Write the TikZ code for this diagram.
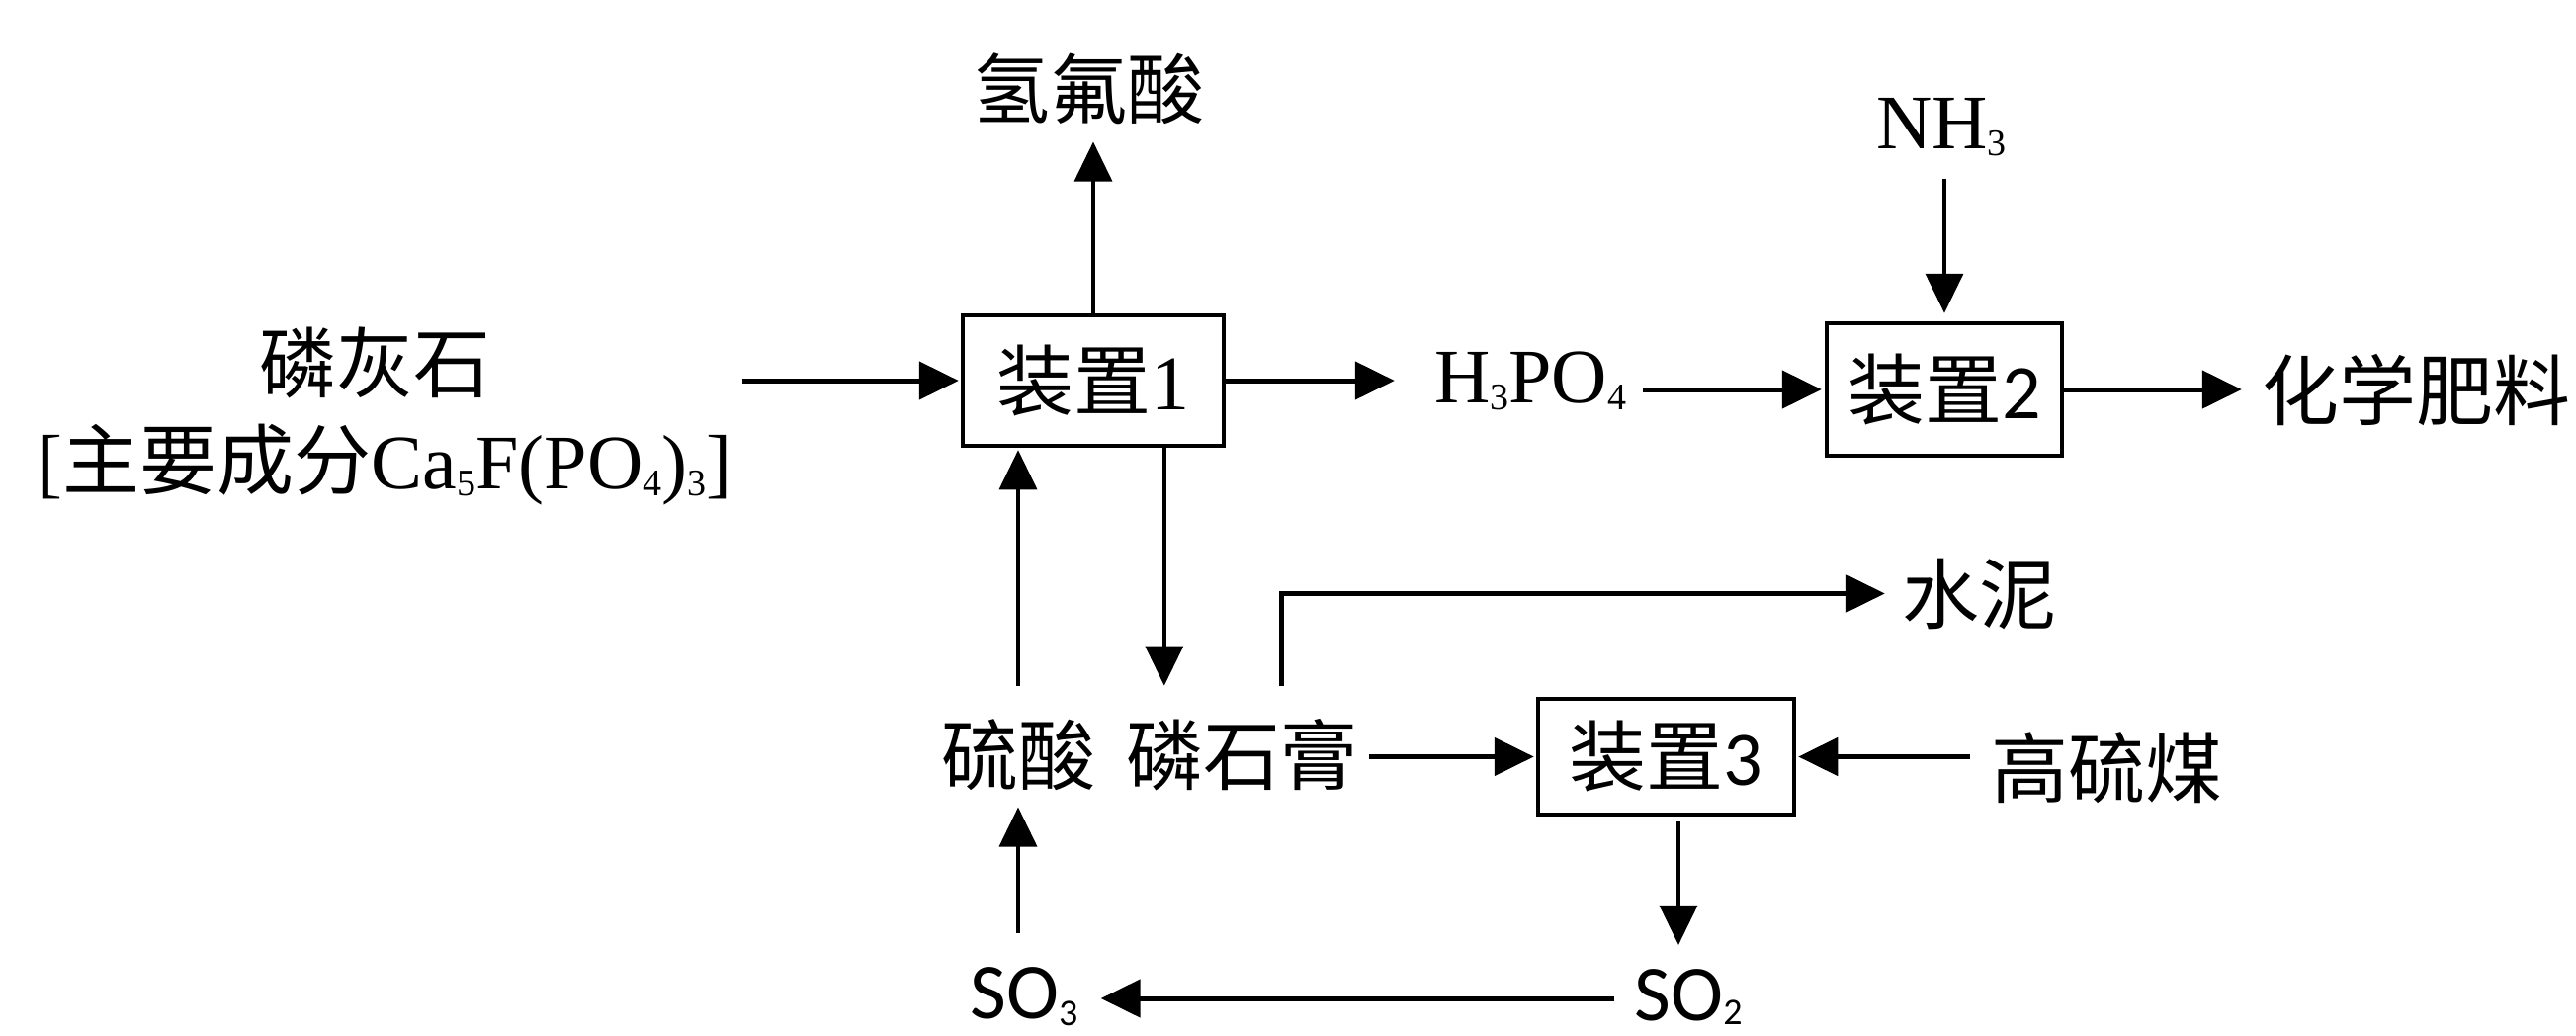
\documentclass[tikz,border=0pt]{standalone}
\usepackage{fontspec}
\setmainfont{Liberation Serif}
\newfontfamily\cjk{Noto Sans CJK SC}
\newfontfamily\carl{Carlito}
\usetikzlibrary{arrows.meta}
\newcommand\zh[1]{{\cjk #1}}
\newcommand\sbs[1]{\raisebox{-7pt}{\fontsize{38}{40}\selectfont #1}}
\newcommand\sbss[1]{\raisebox{-4pt}{\fontsize{38}{40}\selectfont #1}}
\begin{document}
\begin{tikzpicture}[x=1pt,y=-1pt,
  txt/.style={inner sep=0pt, anchor=base, font=\fontsize{78}{90}\selectfont},
  unit/.style={draw, line width=4.5pt, inner sep=0pt, font=\fontsize{78}{90}\selectfont},
  arr/.style={-{Triangle[length=40pt,width=38pt]}, line width=5pt},
  varr/.style={-{Triangle[length=40pt,width=38pt]}, line width=3.5pt}]
\useasboundingbox[fill=white] (0,0) rectangle (2606,1047);

% process units
\node[unit, minimum width=264pt, minimum height=132pt] (box1) at (1106,385) {\zh{装置}1};
\node[unit, minimum width=238pt, minimum height=134pt] (box2) at (1967,394) {\zh{装置}{\carl 2}};
\node[unit, minimum width=259pt, minimum height=117pt] (box3) at (1685.5,765.5) {\zh{装置}{\carl 3}};

% materials
\node[txt] (hf) at (1101,119) {\zh{氢氟酸}};
\node[txt] (rock1) at (379,396) {\zh{磷灰石}};
\node[txt] (rock2) at (389,494) {[\zh{主要成分}Ca\sbs{5}F(PO\sbs{4})\sbs{3}]};
\node[txt] (hpo) at (1548,407) {H\sbs{3}PO\sbs{4}};
\node[txt] (nh3) at (1964,150) {NH\sbs{3}};
\node[txt] (fert) at (2444,424) {\zh{化学肥料}};
\node[txt] (cement) at (2002,630) {\zh{水泥}};
\node[txt] (coal) at (2131,806) {\zh{高硫煤}};
\node[txt] (sa) at (1030,793) {\zh{硫酸}};
\node[txt] (pg) at (1256,793) {\zh{磷石膏}};
\node[txt, font=\carl\fontsize{80}{90}\selectfont] (so3) at (1036,1030) {SO\sbs{3}};
\node[txt, font=\carl\fontsize{80}{90}\selectfont] (so2) at (1708,1032) {SO\sbss{2}};

% connectors
\draw[arr, shorten <=10pt, shorten >=2pt] (rock2.east |- box1.west) -- (box1.west);
\draw[varr, shorten >=18pt] (box1.north) -- (box1.north |- hf.south);
\draw[arr, shorten >=40pt] (box1.east) -- (box1.east -| hpo.west);
\draw[arr, shorten <=17pt, shorten >=3pt] (hpo.east |- box2.west) -- (box2.west);
\draw[arr, shorten >=20pt] (box2.east) -- (box2.east -| fert.west);
\draw[varr, shorten <=23pt, shorten >=8pt] (box2.north |- nh3.south) -- (box2.north);
\draw[varr, shorten <=33pt, shorten >=2pt] (sa.north) -- (sa.north |- box1.south);
\coordinate (pgin) at ([xshift=39pt]pg.north west);
\draw[varr, shorten >=33pt] (box1.south -| pgin) -- (pgin);
\coordinate (pgout) at ([xshift=158pt]pg.north west);
\draw[arr, shorten <=33pt, shorten >=17pt] (pgout) |- (cement.west);
\draw[arr, shorten <=12pt, shorten >=2pt] (pg.east |- box3.west) -- (box3.west);
\draw[arr, shorten <=21pt, shorten >=2pt] (coal.west |- box3.east) -- (box3.east);
\coordinate (so2in) at ([xshift=-10pt]so2.north);
\draw[varr, shorten <=5pt, shorten >=24pt] (box3.south -| so2in) -- (so2in);
\coordinate (loopy) at (0,1010);
\draw[arr, shorten <=20pt, shorten >=23pt] (so2.west |- loopy) -- (so3.east |- loopy);
\draw[varr, shorten <=34pt, shorten >=17pt] (sa.south |- so3.north) -- (sa.south);
\end{tikzpicture}
\end{document}
